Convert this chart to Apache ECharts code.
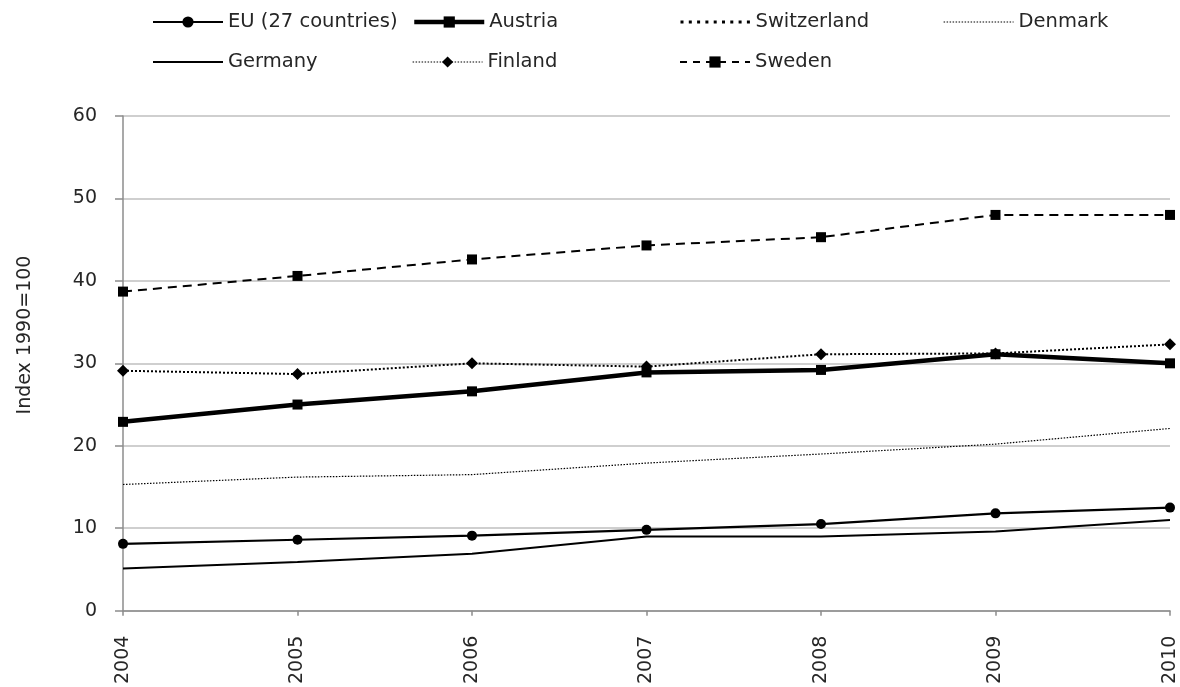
<!DOCTYPE html>
<html>
<head>
<meta charset="utf-8">
<script src="https://cdn.jsdelivr.net/npm/echarts@6/dist/echarts.min.js"></script>
<style>
  html, body { margin: 0; padding: 0; background: #fff; }
  #chart { width: 1180px; height: 687px; }
</style>
</head>
<body>
<div id="chart"></div>
<script>
// Index 1990=100, 2004-2010
const years = ['2004', '2005', '2006', '2007', '2008', '2009', '2010'];
const eu27 = [8.1, 8.6, 9.1, 9.8, 10.5, 11.8, 12.5];
const austria = [22.9, 25.0, 26.6, 28.9, 29.2, 31.1, 30.0];
const switzerland = [];
const denmark = [15.3, 16.2, 16.5, 17.9, 19.0, 20.2, 22.1];
const germany = [5.1, 5.9, 6.9, 9.0, 9.0, 9.6, 11.0];
const finland = [29.1, 28.7, 30.0, 29.6, 31.1, 31.2, 32.3];
const sweden = [38.7, 40.6, 42.6, 44.3, 45.3, 48.0, 48.0];
const yTicks = [0, 10, 20, 30, 40, 50, 60];

const FONT = '"DejaVu Sans", sans-serif';
const TEXT = '#262626';

const chart = echarts.init(document.getElementById('chart'), null, { renderer: 'canvas' });

// one legend block per entry so the entries sit on a fixed two-row grid
function legendAt(name, left, top, hasSymbol, lineStyle) {
  const item = { name: name, lineStyle: lineStyle };
  if (!hasSymbol) item.itemStyle = { opacity: 0 };
  return {
    data: [item],
    left: left, top: top,
    itemWidth: 70, itemHeight: 14,
    textStyle: { fontFamily: FONT, fontSize: 19.5, color: TEXT },
    selectedMode: false, padding: 0
  };
}

chart.setOption({
  animation: false,
  backgroundColor: '#ffffff',
  legend: [
    legendAt('EU (27 countries)', 152, 12, true, { width: 2 }),
    legendAt('Austria', 412, 12, true, { width: 4.5 }),
    legendAt('Switzerland', 679, 12, false, { width: 3, type: [3, 5.3] }),
    legendAt('Denmark', 943, 12, false, { width: 1.2, type: [1.5, 1.5] }),
    legendAt('Germany', 152, 52, false, { width: 2 }),
    legendAt('Finland', 412, 52, true, { width: 1.2, type: [1.5, 1.5] }),
    legendAt('Sweden', 679, 52, true, { width: 2, type: [7, 6] })
  ],
  graphic: [{
    type: 'text', x: 25, y: 335, rotation: Math.PI / 2,
    style: { text: 'Index 1990=100', font: '19px ' + FONT, fill: TEXT,
             align: 'center', verticalAlign: 'middle' }
  }],
  grid: { left: 123, right: 10, top: 116, bottom: 72, containLabel: false },
  xAxis: {
    type: 'category', data: years, boundaryGap: false,
    axisLine: { lineStyle: { color: '#8c8c8c', width: 1.5 } },
    axisTick: { show: true, length: 5, alignWithLabel: true, lineStyle: { color: '#8c8c8c', width: 1.5 } },
    axisLabel: { rotate: 90, fontFamily: FONT, fontSize: 19, color: TEXT, margin: 25 },
    splitLine: { show: false }
  },
  yAxis: {
    type: 'value', min: yTicks[0], max: yTicks[yTicks.length - 1], interval: 10,
    axisLine: { show: true, lineStyle: { color: '#8c8c8c', width: 1.5 } },
    axisTick: { show: true, length: 8, lineStyle: { color: '#8c8c8c', width: 1.5 } },
    axisLabel: { fontFamily: FONT, fontSize: 19, color: TEXT, margin: 26 },
    splitLine: { show: true, lineStyle: { color: '#bfbfbf', width: 1.5 } }
  },
  series: [
    { name: 'EU (27 countries)', type: 'line', data: eu27, symbol: 'circle', symbolSize: 10,
      lineStyle: { color: '#000', width: 2.2 }, itemStyle: { color: '#000' } },
    { name: 'Austria', type: 'line', data: austria, symbol: 'rect', symbolSize: 10,
      lineStyle: { color: '#000', width: 4.5 }, itemStyle: { color: '#000' } },
    { name: 'Switzerland', type: 'line', data: switzerland, symbol: 'none', showSymbol: false,
      lineStyle: { color: '#000', width: 3, type: [3, 5.3] }, itemStyle: { color: '#000' } },
    { name: 'Denmark', type: 'line', data: denmark, symbol: 'none', showSymbol: false,
      lineStyle: { color: '#000', width: 1.2, type: [1.5, 1.5] }, itemStyle: { color: '#000' } },
    { name: 'Germany', type: 'line', data: germany, symbol: 'none', showSymbol: false,
      lineStyle: { color: '#000', width: 2 }, itemStyle: { color: '#000' } },
    { name: 'Finland', type: 'line', data: finland, symbol: 'diamond', symbolSize: 12,
      lineStyle: { color: '#000', width: 2, type: [2, 2] }, itemStyle: { color: '#000' } },
    { name: 'Sweden', type: 'line', data: sweden, symbol: 'rect', symbolSize: 10,
      lineStyle: { color: '#000', width: 2, type: [9, 6] }, itemStyle: { color: '#000' } }
  ]
});
</script>
</body>
</html>
